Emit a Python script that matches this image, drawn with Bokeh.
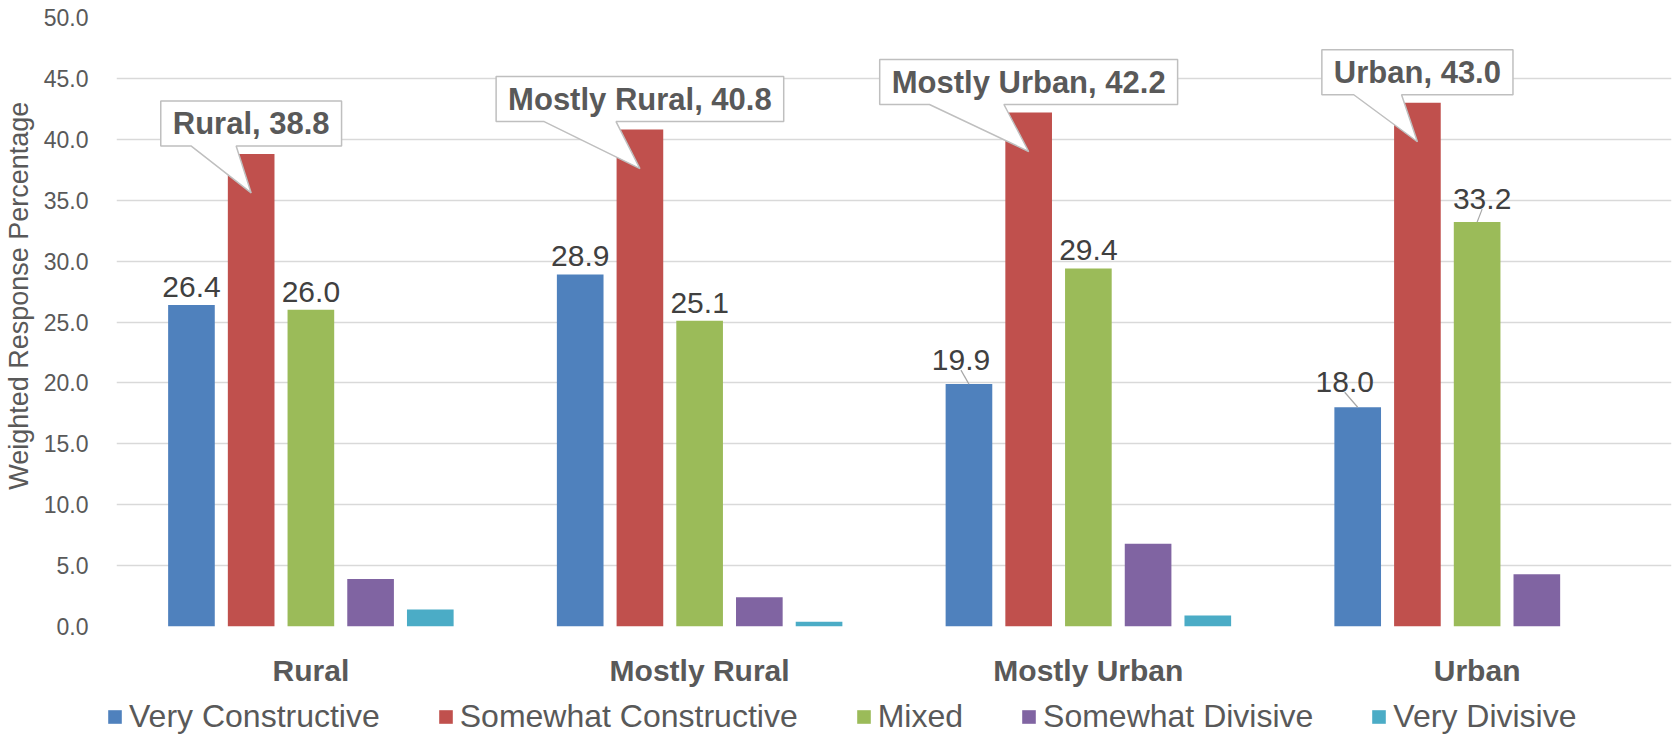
from bokeh.plotting import figure
from bokeh.layouts import column
from bokeh.models import (FixedTicker, NumeralTickFormatter, Legend, LegendItem,
                          ColumnDataSource, Range1d)
from bokeh.embed import file_html
from bokeh.resources import INLINE
from bokeh.core.properties import value

# ---------------- data ----------------
categories = ["Rural", "Mostly Rural", "Mostly Urban", "Urban"]
series_names = ["Very Constructive", "Somewhat Constructive", "Mixed",
                "Somewhat Divisive", "Very Divisive"]
very_constructive = [26.4, 28.9, 19.9, 18.0]
somewhat_constructive = [38.8, 40.8, 42.2, 43.0]
mixed = [26.0, 25.1, 29.4, 33.2]
somewhat_divisive = [3.9, 2.4, 6.8, 4.3]
very_divisive = [1.4, 0.4, 0.9, 0.0]
y_ticks = [0, 5, 10, 15, 20, 25, 30, 35, 40, 45, 50]
y_title = "Weighted Response Percentage"

series_values = [very_constructive, somewhat_constructive, mixed,
                 somewhat_divisive, very_divisive]
colors = ["#4F81BD", "#C0504D", "#9BBB59", "#8064A2", "#4BACC6"]

# ---------------- geometry / style ----------------
FONT = "Liberation Sans"
FW, FH = 1555, 609
LEFT, RIGHT = 110, 4
X_MAX, Y_MAX = len(categories), 50
PX_X = X_MAX / FW
PX_Y = Y_MAX / FH
PITCH = 0.1536
BAR_W = 0.12
centers = [i + 0.5 for i in range(len(categories))]

p = figure(frame_width=FW, frame_height=FH, output_backend="svg",
           toolbar_location=None, x_range=Range1d(0, X_MAX),
           y_range=Range1d(0, Y_MAX), min_border_left=LEFT, min_border_top=17,
           min_border_right=RIGHT, min_border_bottom=0)
p.outline_line_color = None
p.background_fill_color = "white"
p.border_fill_color = "white"

# bars
for j, (name, vals, col) in enumerate(zip(series_names, series_values, colors)):
    xs = [c + (j - 2) * PITCH for c in centers]
    src = ColumnDataSource(dict(x=xs, top=vals))
    p.vbar(x="x", top="top", bottom=0, width=BAR_W, source=src,
           fill_color=col, line_color=None)

# data labels for Very Constructive and Mixed
label_tweaks = {(2, 0): (-8, 24), (3, 0): (-13, 25), (3, 2): (5, 23)}
lx, ly, lt = [], [], []
sx0, sy0, sx1, sy1 = [], [], [], []
for j in (0, 2):
    for i, v in enumerate(series_values[j]):
        bx = centers[i] + (j - 2) * PITCH
        dx, dy = label_tweaks.get((i, j), (0, 18))
        tx = bx + dx * PX_X
        ty = v + dy * PX_Y
        lx.append(tx); ly.append(ty); lt.append(f"{v:.1f}")
        if (i, j) in label_tweaks:
            sx0.append(tx); sy0.append(ty - 10 * PX_Y)
            sx1.append(bx); sy1.append(v)
p.segment(x0=sx0, y0=sy0, x1=sx1, y1=sy1, line_color="#A6A6A6", line_width=1.2)
p.text(x=lx, y=ly, text=lt, text_font=value(FONT), text_font_size="30px",
       text_color="#404040", text_align="center", text_baseline="alphabetic")

# callouts for Somewhat Constructive
BOLD_W = {'M': 833, 'o': 611, 's': 556, 't': 333, 'l': 278, 'y': 556, ' ': 278,
          'R': 722, 'u': 611, 'r': 389, 'a': 556, ',': 278, 'U': 722, 'b': 611,
          'n': 611, '.': 278}
CALL_FS = 31
def text_w(s, fs):
    return sum(BOLD_W.get(ch, 556) for ch in s) * fs / 1000.0

pxs, pys, ctx, cty, ctt = [], [], [], [], []
for i, v in enumerate(somewhat_constructive):
    bc = centers[i] - PITCH
    txt = f"{categories[i]}, {v:.1f}"
    w = text_w(txt, CALL_FS) + 24
    L = bc - w / 2 * PX_X
    R = bc + w / 2 * PX_X
    B = v + 8 * PX_Y
    T = B + 45 * PX_Y
    b1 = L + 0.167 * w * PX_X
    b2 = L + 0.417 * w * PX_X
    tip_y = v - 39 * PX_Y
    pxs.append([L, b1, bc, b2, R, R, L])
    pys.append([B, B, tip_y, B, B, T, T])
    ctx.append(bc); cty.append((B + T) / 2); ctt.append(txt)
p.patches(xs=pxs, ys=pys, fill_color="white", line_color="#BFBFBF", line_width=1.5)
p.text(x=ctx, y=cty, text=ctt, text_font=value(FONT), text_font_size=f"{CALL_FS}px",
       text_font_style="bold", text_color="#595959", text_align="center",
       text_baseline="middle")

# axes
p.yaxis.ticker = FixedTicker(ticks=y_ticks)
p.yaxis.formatter = NumeralTickFormatter(format="0.0")
p.yaxis.major_label_text_font = FONT
p.yaxis.major_label_text_font_size = "23px"
p.yaxis.major_label_text_color = "#595959"
p.yaxis.major_label_standoff = 22
p.yaxis.axis_line_color = None
p.yaxis.major_tick_line_color = None
p.yaxis.minor_tick_line_color = None
# leading no-break spaces lift the title (the reference centres it higher)
p.yaxis.axis_label = "\u00a0" * 7 + y_title
p.yaxis.axis_label_text_font = FONT
p.yaxis.axis_label_text_font_size = "27px"
p.yaxis.axis_label_text_font_style = "normal"
p.yaxis.axis_label_text_color = "#595959"
p.yaxis.axis_label_standoff = 7

p.xaxis.ticker = FixedTicker(ticks=centers)
p.xaxis.major_label_overrides = {c: name for c, name in zip(centers, categories)}
p.xaxis.major_label_text_font = FONT
p.xaxis.major_label_text_font_size = "30px"
p.xaxis.major_label_text_font_style = "bold"
p.xaxis.major_label_text_color = "#595959"
p.xaxis.major_label_standoff = 21
p.xaxis.axis_line_color = None
p.xaxis.major_tick_line_color = None
p.xaxis.minor_tick_line_color = None

p.xgrid.grid_line_color = None
p.ygrid.ticker = FixedTicker(ticks=y_ticks)
p.ygrid.grid_line_color = "#D9D9D9"
p.ygrid.grid_line_width = 1.5

# ---------------- legend strip (separate figure below the chart) ----------------
lg = figure(frame_width=LEFT + FW + RIGHT, frame_height=52, output_backend="svg",
            toolbar_location=None, x_range=Range1d(0, 1), y_range=Range1d(0, 1),
            x_axis_location=None, y_axis_location=None, min_border_left=0,
            min_border_right=0, min_border_top=0, min_border_bottom=0)
lg.outline_line_color = None
lg.grid.visible = False
lg_items = []
for name, col in zip(series_names, colors):
    # a zero-height bar, present only so that the legend draws its swatch
    r = lg.vbar(x=[0.5], top=[0], bottom=[0], width=0.0, fill_color=col,
                line_color=None)
    lg_items.append(LegendItem(label=name, renderers=[r]))
legend = Legend(items=lg_items, orientation="horizontal", location=(106, 6),
                glyph_width=17, glyph_height=17, label_standoff=6, spacing=57,
                padding=0, margin=0, label_text_font=FONT,
                label_text_font_size="32px", label_text_color="#595959",
                border_line_color=None, background_fill_alpha=0)
lg.add_layout(legend, "center")

layout = column(p, lg, spacing=0)
open("out.html", "w").write(file_html(layout, INLINE, title="chart"))
